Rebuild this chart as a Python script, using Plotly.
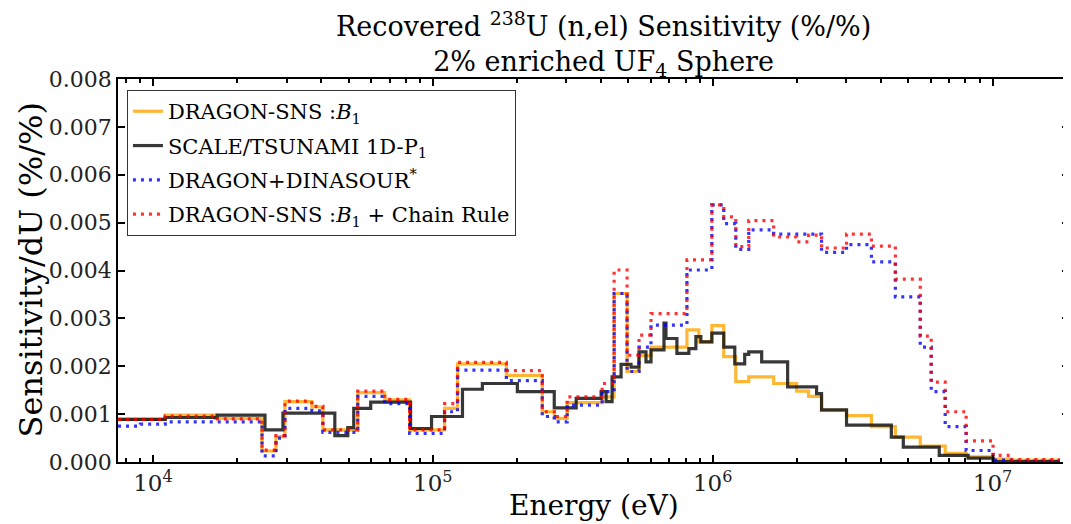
import plotly.graph_objects as go

# group boundaries (eV) of the DRAGON structure, 42 groups
e_dragon = [7500, 9010, 11060, 16670, 24520, 27500, 29610, 36950, 40450, 53900,
            67300, 82600, 110100, 122500, 183100, 246000, 271600, 302000, 402600,
            444300, 494300, 545300, 601800, 808800, 892000, 993000, 1.095e6,
            1.209e6, 1.345e6, 1.651e6, 1.994e6, 2.200e6, 2.448e6, 3.007e6,
            3.690e6, 4.493e6, 5.515e6, 6.036e6, 6.771e6, 8.044e6, 1.004e7,
            1.164e7, 1.740e7]

s_dragon_b1 = [0.00089, 0.00089, 0.00098, 0.00091, 0.00023, 0.00053, 0.00126, 0.00115,
               0.00067, 0.00145, 0.00130, 0.00067, 0.00112, 0.00205, 0.00181, 0.00105,
               0.00091, 0.00124, 0.00136, 0.00352, 0.00189, 0.00222, 0.00240, 0.00276,
               0.00251, 0.00285, 0.00220, 0.00168, 0.00178, 0.00164, 0.00148, 0.00137,
               0.00108, 0.00097, 0.00074, 0.00052, 0.00033, 0.00033, 0.00018, 0.00011,
               0.00006, 0.00004]

s_dinasour = [0.00075, 0.00079, 0.00084, 0.00084, 0.00013, 0.00050, 0.00112, 0.00107,
              0.00062, 0.00137, 0.00122, 0.00060, 0.00105, 0.00192, 0.00170, 0.00095,
              0.00084, 0.00119, 0.00147, 0.00352, 0.00189, 0.00240, 0.00286, 0.00401,
              0.00401, 0.00537, 0.00498, 0.00444, 0.00485, 0.00476, 0.00476, 0.00476,
              0.00438, 0.00454, 0.00418, 0.00345, 0.00240, 0.00147, 0.00074, 0.00024,
              0.00004, 0.00002]

s_chain = [0.00089, 0.00089, 0.00096, 0.00090, 0.00025, 0.00055, 0.00127, 0.00116,
           0.00067, 0.00148, 0.00131, 0.00067, 0.00122, 0.00208, 0.00191, 0.00105,
           0.00095, 0.00136, 0.00164, 0.00401, 0.00223, 0.00265, 0.00310, 0.00422,
           0.00422, 0.00537, 0.00512, 0.00450, 0.00504, 0.00470, 0.00460, 0.00474,
           0.00447, 0.00476, 0.00451, 0.00382, 0.00263, 0.00167, 0.00105, 0.00044,
           0.00014, 0.00005]

# SCALE group structure
e_scale = [7500, 11060, 16950, 25130, 29130, 44640, 49660, 52160, 59980, 83250,
           98940, 127600, 150300, 200400, 271500, 325200, 399300, 415900, 436900,
           470500, 510600, 545200, 577500, 601800, 669600, 680600, 744700, 821700,
           870600, 907000, 992600, 1.095e6, 1.199e6, 1.301e6, 1.345e6, 1.496e6,
           1.852e6, 2.350e6, 2.448e6, 3.007e6, 4.347e6, 4.797e6, 6.447e6, 8.178e6,
           1.004e7, 1.740e7]

s_scale = [0.00089, 0.00093, 0.00098, 0.00067, 0.00102, 0.00055, 0.00072, 0.00112,
           0.00125, 0.00070, 0.00095, 0.00152, 0.00164, 0.00147, 0.00113, 0.00133,
           0.00147, 0.00126, 0.00178, 0.00204, 0.00198, 0.00230, 0.00209, 0.00234,
           0.00290, 0.00258, 0.00227, 0.00237, 0.00262, 0.00251, 0.00269, 0.00240,
           0.00205, 0.00225, 0.00230, 0.00209, 0.00157, 0.00143, 0.00109, 0.00077,
           0.00052, 0.00031, 0.00014, 0.00008, 0.00001]

y_ticks = [0.000, 0.001, 0.002, 0.003, 0.004, 0.005, 0.006, 0.007, 0.008]
x_ticks = [1e4, 1e5, 1e6, 1e7]
x_ticktext = ["10<sup>4</sup>", "10<sup>5</sup>", "10<sup>6</sup>", "10<sup>7</sup>"]

FONT = "DejaVu Serif"

series = [
    ("DRAGON-SNS :<i>B</i><sub>1</sub>", e_dragon, s_dragon_b1, "rgba(255,165,0,0.8)", "solid"),
    ("SCALE/TSUNAMI 1D-P<sub>1</sub>", e_scale, s_scale, "rgba(20,20,20,0.85)", "solid"),
    ("DRAGON+DINASOUR<sup>*</sup>", e_dragon, s_dinasour, "rgba(0,0,255,0.8)", "3px,5px"),
    ("DRAGON-SNS :<i>B</i><sub>1</sub> + Chain Rule", e_dragon, s_chain, "rgba(255,0,0,0.8)", "3px,5px"),
]

fig = go.Figure()
for name, edges, vals, col, dash in series:
    fig.add_trace(go.Scatter(
        x=edges, y=list(vals) + [vals[-1]], mode="lines", name=name, legendgroup=name,
        line=dict(color=col, width=3.2, dash=dash, shape="hv"),
    ))

minor_vals = [m * 10 ** d for d in range(3, 8) for m in range(2, 10)]

fig.update_xaxes(
    type="log", range=[3.875, 7.273],
    tickvals=x_ticks, ticktext=x_ticktext,
    ticks="inside", ticklen=7, tickwidth=1.5, tickcolor="black",
    minor=dict(tickvals=minor_vals, ticks="inside", ticklen=4, tickcolor="black"),
    showline=True, linecolor="black", linewidth=1.5, mirror="ticks",
    showgrid=False, zeroline=False,
    tickfont=dict(family=FONT, size=23, color="#222"),
)
fig.update_yaxes(
    range=[0, 0.008], tickvals=y_ticks, tickformat=".3f",
    ticks="inside", ticklen=7, tickwidth=1.5, tickcolor="black",
    showline=True, linecolor="black", linewidth=1.5, mirror="ticks",
    showgrid=False, zeroline=False,
    tickfont=dict(family=FONT, size=22, color="#222"),
)

fig.add_annotation(
    text="Recovered <sup>238</sup>U (n,el) Sensitivity (%/%)<br>2% enriched UF<sub>4</sub> Sphere",
    xref="paper", yref="paper", x=0.511, y=1, yshift=35,
    xanchor="center", yanchor="middle",
    showarrow=False, font=dict(family=FONT, size=27, color="black"),
)
fig.add_annotation(
    text="Sensitivity/dU (%/%)", textangle=-90,
    xref="paper", yref="paper", x=0, xshift=-88, y=0.5,
    xanchor="center", yanchor="middle",
    showarrow=False, font=dict(family=FONT, size=32, color="black"),
)
fig.add_annotation(
    text="Energy (eV)",
    xref="paper", yref="paper", x=0.5, y=0, yshift=-43,
    xanchor="center", yanchor="middle",
    showarrow=False, font=dict(family=FONT, size=28, color="black"),
)

# page body keeps its default 8px margin, so the figure is sized to fit the window
fig.update_layout(
    width=1063, height=516,
    margin=dict(l=110, r=0, t=71, b=62),
    plot_bgcolor="white", paper_bgcolor="white",
    legend=dict(
        x=0.0094, y=0.971, xanchor="left", yanchor="top",
        bgcolor="white", bordercolor="#333", borderwidth=1,
        font=dict(family=FONT, size=21, color="black"),
        tracegroupgap=4,
    ),
)

fig.write_html("out.html")
